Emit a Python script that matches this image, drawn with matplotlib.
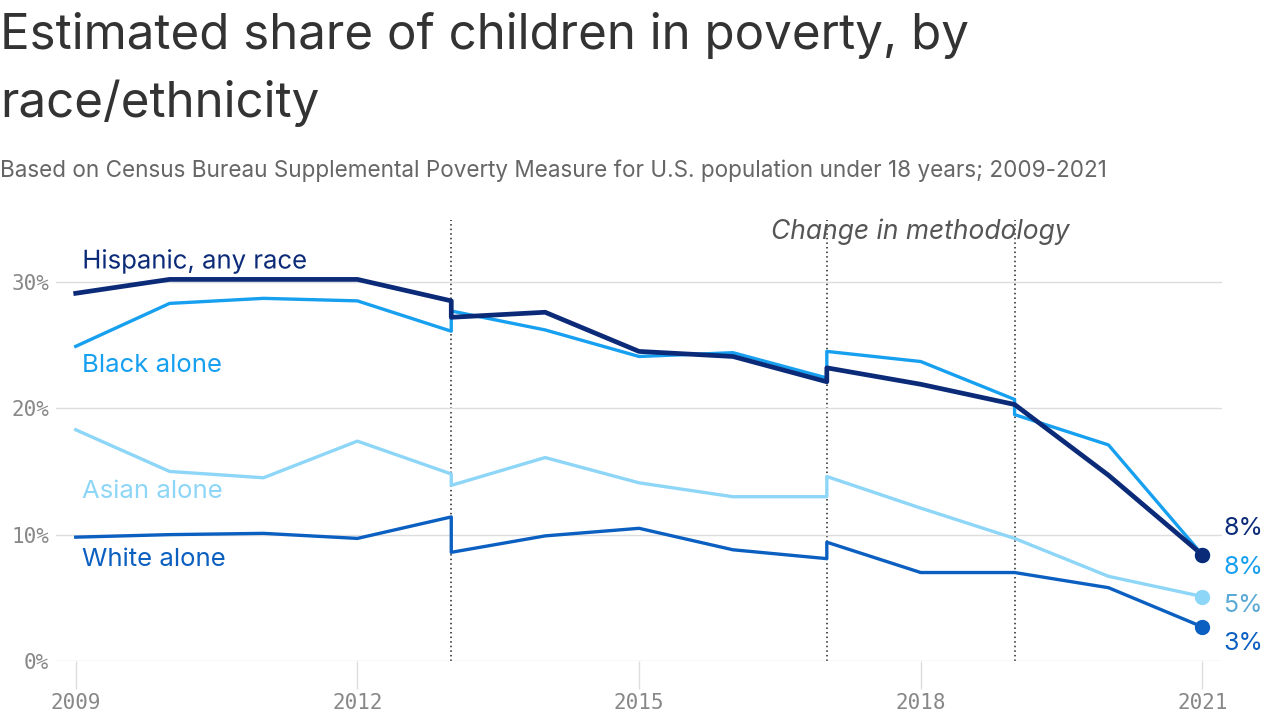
import matplotlib.pyplot as plt
import matplotlib.patheffects as pe

# years with the methodology breaks repeated (old value, new value)
years = [2009, 2010, 2011, 2012, 2013, 2013, 2014, 2015, 2016, 2017, 2017, 2018, 2019, 2019, 2020, 2021]

hispanic = [29.1, 30.2, 30.2, 30.2, 28.5, 27.2, 27.6, 24.5, 24.1, 22.1, 23.2, 21.9, 20.3, 20.3, 14.7, 8.4]
black = [24.9, 28.3, 28.7, 28.5, 26.1, 27.7, 26.2, 24.1, 24.4, 22.4, 24.5, 23.7, 20.7, 19.5, 17.1, 8.4]
asian = [18.3, 15.0, 14.5, 17.4, 14.8, 13.9, 16.1, 14.1, 13.0, 13.0, 14.6, 12.1, 9.7, 9.7, 6.7, 5.1]
white = [9.8, 10.0, 10.1, 9.7, 11.4, 8.6, 9.9, 10.5, 8.8, 8.1, 9.4, 7.0, 7.0, 7.0, 5.8, 2.7]

breaks = [2013, 2017, 2019]
xticks = [2009, 2012, 2015, 2018, 2021]
yticks = [0, 10, 20, 30]

c_hisp = "#0b2a78"
c_black = "#179ff0"
c_asian = "#8ed6f7"
c_white = "#0a5fc0"

fig = plt.figure(figsize=(12.8, 7.19), dpi=100)
ax = fig.add_axes([0.04375, 0.0807, 0.911, 0.6133])

ax.set_xlim(2008.79, 2021.21)
ax.set_ylim(0, 34.9)

for b in breaks:
    ax.axvline(b, color="#222222", lw=1.1, ls=(0, (1, 2)), zorder=1)

ax.plot(years, white, color=c_white, lw=2.4, zorder=3)
ax.plot(years, asian, color=c_asian, lw=2.4, zorder=3)
ax.plot(years, black, color=c_black, lw=2.4, zorder=3)
ax.plot(years, hispanic, color=c_hisp, lw=3.4, zorder=4)

ax.plot(years[-1], white[-1], "o", color=c_white, ms=10, zorder=5)
ax.plot(years[-1], asian[-1], "o", color=c_asian, ms=10, zorder=5)
ax.plot(years[-1], black[-1], "o", color=c_black, ms=10, zorder=5)
ax.plot(years[-1], hispanic[-1], "o", color=c_hisp, ms=10, zorder=6)

halo = [pe.withStroke(linewidth=3, foreground="white")]
lab_kw = dict(fontsize=18.5, family="Inter", va="center", ha="left", zorder=7)
ax.text(2009.07, 31.6, "Hispanic, any race", color=c_hisp, path_effects=halo, **lab_kw)
ax.text(2009.07, 23.4, "Black alone", color=c_black, **lab_kw)
ax.text(2009.07, 13.4, "Asian alone", color=c_asian, **lab_kw)
ax.text(2009.07, 8.0, "White alone", color=c_white, **lab_kw)

end_kw = dict(fontsize=18, family="Inter", va="center", ha="left",
              transform=ax.get_yaxis_transform(), clip_on=False)
ax.text(1.001, 10.5, "8%", color=c_hisp, **end_kw)
ax.text(1.001, 7.4, "8%", color=c_black, **end_kw)
ax.text(1.001, 4.4, "5%", color="#58a9d6", **end_kw)
ax.text(1.001, 1.4, "3%", color=c_white, **end_kw)

ax.text(2018, 34.0, "Change in methodology", color="#555555", fontsize=19,
        family="Inter", style="italic", ha="center", va="center")

ax.set_yticks(yticks)
ax.set_yticklabels([f"{v}%" for v in yticks])
ax.set_xticks(xticks)
ax.set_xticklabels([str(v) for v in xticks])
ax.grid(axis="y", color="#dddddd", lw=1, zorder=0)
ax.tick_params(axis="y", length=0, pad=5, labelsize=15, labelcolor="#888888")
ax.tick_params(axis="x", length=20, width=1, color="#dddddd", pad=3,
               labelsize=15, labelcolor="#888888")
for lbl in ax.get_xticklabels() + ax.get_yticklabels():
    lbl.set_family("DejaVu Sans Mono")
for s in ax.spines.values():
    s.set_visible(False)

fig.text(0.0, 0.9318, "Estimated share of children in poverty, by",
         fontsize=35.5, family="Inter", color="#333333", va="baseline", ha="left")
fig.text(0.0, 0.8373, "race/ethnicity",
         fontsize=35.5, family="Inter", color="#333333", va="baseline", ha="left")
fig.text(0.0, 0.7538, "Based on Census Bureau Supplemental Poverty Measure for U.S. population under 18 years; 2009-2021",
         fontsize=16.2, family="Inter", color="#666666", va="baseline", ha="left")

fig.savefig("out.png", dpi=100, facecolor="white")
